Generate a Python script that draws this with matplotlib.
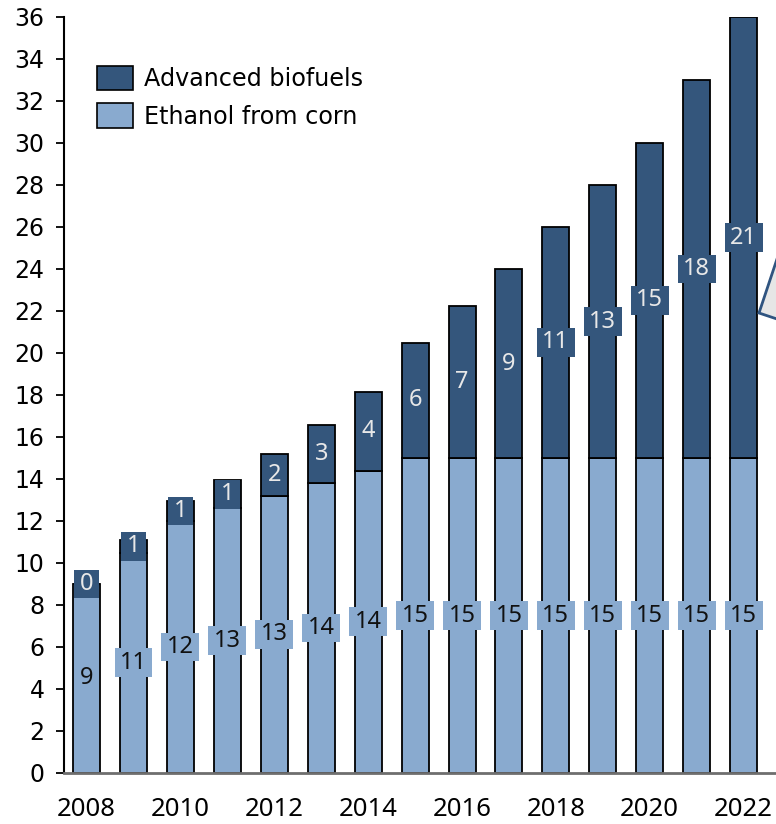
import matplotlib
matplotlib.use("Agg")
import matplotlib.pyplot as plt
from matplotlib.patches import Polygon, Patch
from matplotlib.path import Path
import numpy as np

# Renewable fuel volumes by year (billion gallons)
years = [2008, 2009, 2010, 2011, 2012, 2013, 2014, 2015,
         2016, 2017, 2018, 2019, 2020, 2021, 2022]
corn_ethanol = [9.0, 10.5, 12.0, 12.6, 13.2, 13.8, 14.4, 15.0,
                15.0, 15.0, 15.0, 15.0, 15.0, 15.0, 15.0]
advanced = [0.0, 0.6, 0.95, 1.35, 2.0, 2.75, 3.75, 5.5,
            7.25, 9.0, 11.0, 13.0, 15.0, 18.0, 21.0]
series_names = ["Advanced biofuels", "Ethanol from corn"]
y_ticks = list(range(0, 37, 2))
x_ticks = [2008, 2010, 2012, 2014, 2016, 2018, 2020, 2022]

DARK = "#34567c"
LIGHT = "#89aacf"
LABEL_FONT = ["Noto Sans", "DejaVu Sans"]

plt.rcParams["font.family"] = ["DejaVu Sans"]

W, H = 776, 824
fig = plt.figure(figsize=(W / 100, H / 100), dpi=100)
ax = fig.add_axes([64 / W, 51 / H, (W - 64) / W, 756 / H])

x = np.array(years, dtype=float)
corn = np.array(corn_ethanol)
adv = np.array(advanced)
width = 0.575

ax.bar(x, corn, width, color=LIGHT, edgecolor="black", linewidth=1.3, zorder=2)
ax.bar(x, adv, width, bottom=corn, color=DARK, edgecolor="black",
       linewidth=1.3, zorder=2)


class LabelBox:
    """Rectangular text box with separate horizontal and vertical padding."""

    def __init__(self, padx, pady):
        self.padx = padx
        self.pady = pady

    def __call__(self, x0, y0, width, height, mutation_size):
        px = self.padx * mutation_size
        py = self.pady * mutation_size
        x0, y0 = x0 - px, y0 - py
        x1, y1 = x0 + width + 2 * px, y0 + height + 2 * py
        return Path([(x0, y0), (x1, y0), (x1, y1), (x0, y1), (x0, y0)],
                    closed=True)


def label(v):
    return str(int(np.floor(v + 0.5)))


for xi, c, a in zip(x, corn, adv):
    ax.text(xi, c / 2, label(c), ha="center", va="center", fontsize=17,
            family=LABEL_FONT, color="#111111", zorder=5,
            bbox=dict(boxstyle=LabelBox(0.23, 0.1), fc=LIGHT, ec="none"))
    ax.text(xi, c + a / 2, label(a), ha="center", va="center", fontsize=17,
            family=LABEL_FONT, color="#e8e8e8", zorder=6,
            bbox=dict(boxstyle=LabelBox(0.23, 0.1), fc=DARK, ec="none"))

ax.set_xlim(2007.52, 2022.69)
ax.set_ylim(0, 36)
ax.set_yticks(y_ticks)
ax.set_xticks(x_ticks)
ax.tick_params(axis="y", length=6, width=1.3, pad=8, labelsize=17,
               direction="out", colors="black")
ax.tick_params(axis="x", length=0, pad=17)
for t in ax.get_xticklabels():
    t.set_fontfamily(LABEL_FONT)
    t.set_fontsize(18.5)

for s in ["top", "right"]:
    ax.spines[s].set_visible(False)
ax.spines["left"].set_linewidth(1.5)
ax.spines["bottom"].set_color("#6e6e6e")
ax.spines["bottom"].set_linewidth(2)
ax.spines["bottom"].set_zorder(4)

handles = [Patch(facecolor=DARK, edgecolor="black", linewidth=1.2),
           Patch(facecolor=LIGHT, edgecolor="black", linewidth=1.2)]
ax.legend(handles, series_names, loc="upper left",
          bbox_to_anchor=(97 / W, 1 - 66 / H), bbox_transform=fig.transFigure,
          frameon=False, fontsize=17.2, handlelength=1.5, handleheight=1.2,
          handletextpad=0.45, labelspacing=0.5, borderpad=0, borderaxespad=0)

# Callout shape entering from the right edge
pts = [(759, H - 313), (810, H - 160), (810, H - 330)]
callout = Polygon(pts, closed=True, transform=None, facecolor="#e6e6e6",
                  edgecolor="#2f5480", linewidth=2, zorder=10)
fig.patches.append(callout)

fig.savefig("out.png", dpi=100)
